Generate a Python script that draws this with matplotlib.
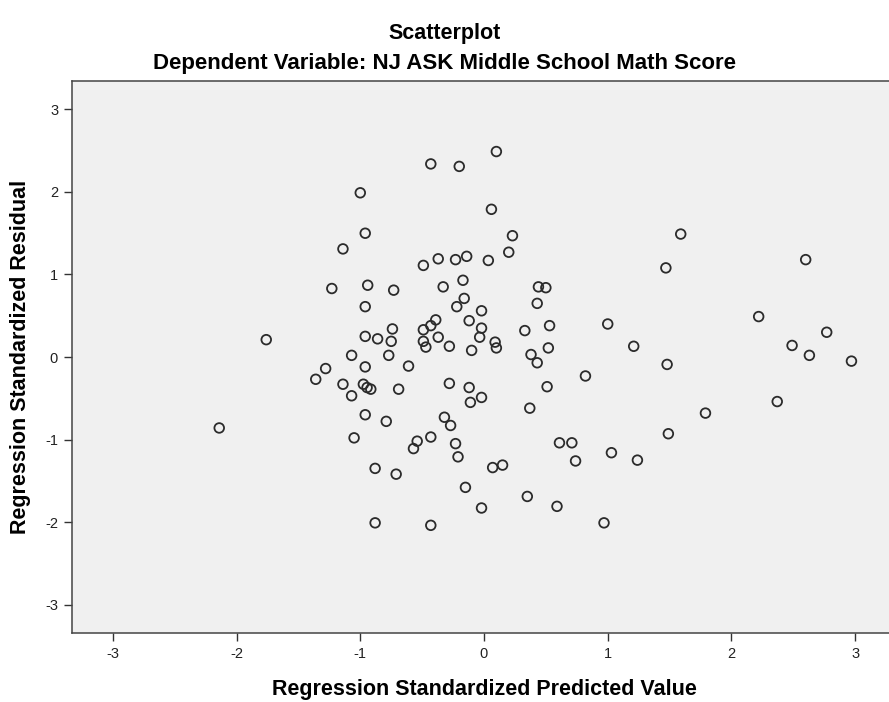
import matplotlib
matplotlib.use("Agg")
import matplotlib.pyplot as plt

plt.rcParams['font.family'] = ['Liberation Sans', 'DejaVu Sans']
plt.rcParams['axes.unicode_minus'] = False

# standardized predicted value (x) and standardized residual (y)
pred = [-2.14, -1.76, -1.23, -1.14, -1.28, -1.36, -1.14, 0.10, -0.43, -0.20,
        -1.00, 0.06, -0.96, 0.23, 0.20, -0.49, -0.37, -0.23, -0.14, 0.035,
        -0.94, -0.73, -0.33, -0.17, -0.16, -0.22, -0.96, 0.44, 0.50, 0.43,
        -0.02, -0.39, -0.43, -0.49, -0.12, -0.02, 0.33, 0.53, 1.00, -0.96,
        -0.86, -0.74, -0.75, -0.49, -0.47, -0.37, -0.28, -0.035, 0.09, 0.10,
        -0.10, 0.52, 0.38, 0.43, -1.07, -0.77, -0.96, -0.61, -0.975, -0.945,
        -0.915, -1.07, -0.69, -0.28, -0.12, -0.11, -0.02, 0.37, 0.51, 0.82,
        -0.96, -0.79, -1.05, -0.32, -0.27, -0.43, -0.54, -0.57, -0.23, -0.21,
        -0.88, -0.71, 0.07, 0.15, 0.61, 0.71, 0.74, 1.03, -0.15, -0.02,
        0.35, 0.59, -0.88, -0.43, 0.97, 1.48, 2.97, 2.37, 1.79, 1.49,
        1.24, 1.59, 1.47, 2.60, 2.22, 2.77, 1.21, 2.49, 2.63]
resid = [-0.86, 0.21, 0.83, 1.31, -0.14, -0.27, -0.33, 2.49, 2.34, 2.31,
         1.99, 1.79, 1.50, 1.47, 1.27, 1.11, 1.19, 1.18, 1.22, 1.17,
         0.87, 0.81, 0.85, 0.93, 0.71, 0.61, 0.61, 0.85, 0.84, 0.65,
         0.56, 0.45, 0.38, 0.33, 0.44, 0.35, 0.32, 0.38, 0.40, 0.25,
         0.22, 0.34, 0.19, 0.19, 0.12, 0.24, 0.13, 0.24, 0.18, 0.11,
         0.08, 0.11, 0.03, -0.07, 0.02, 0.02, -0.12, -0.11, -0.33, -0.37,
         -0.39, -0.47, -0.39, -0.32, -0.37, -0.55, -0.49, -0.62, -0.36, -0.23,
         -0.70, -0.78, -0.98, -0.73, -0.83, -0.97, -1.02, -1.11, -1.05, -1.21,
         -1.35, -1.42, -1.34, -1.31, -1.04, -1.04, -1.26, -1.16, -1.58, -1.83,
         -1.69, -1.81, -2.01, -2.04, -2.01, -0.09, -0.05, -0.54, -0.68, -0.93,
         -1.25, 1.49, 1.08, 1.18, 0.49, 0.30, 0.13, 0.14, 0.02]

ticks = [-3, -2, -1, 0, 1, 2, 3]

fig = plt.figure(figsize=(8.89, 7.02), dpi=100)
# plot box runs past the right edge of the picture, as in the original
ax = fig.add_axes([72 / 889, 69 / 702, 824 / 889, 552 / 702])
ax.set_facecolor("#f0f0f0")

ax.scatter(pred, resid, s=48, facecolors="none", edgecolors="#2b2b2b", linewidths=1.3, zorder=3)

ax.set_xlim(-3.33, 3.33)
ax.set_ylim(-3.345, 3.345)
ax.set_xticks(ticks)
ax.set_yticks(ticks)
ax.tick_params(direction="out", length=6, width=1, color="#333333",
               labelsize=10.5, labelcolor="#222222", pad=4)
for s in ax.spines.values():
    s.set_color("#444444")
    s.set_linewidth(1.1)

ax.set_xlabel("Regression Standardized Predicted Value", fontsize=15.5, fontweight="bold", labelpad=13)
ax.set_ylabel("Regression Standardized Residual", fontsize=15.5, fontweight="bold", labelpad=10)

fig.text(0.5, 1 - 33 / 702, "Scatterplot", ha="center", va="center", fontsize=15.5, fontweight="bold")
fig.text(0.5, 1 - 63 / 702, "Dependent Variable: NJ ASK Middle School Math Score",
         ha="center", va="center", fontsize=16, fontweight="bold")

fig.savefig("out.png", dpi=100)
